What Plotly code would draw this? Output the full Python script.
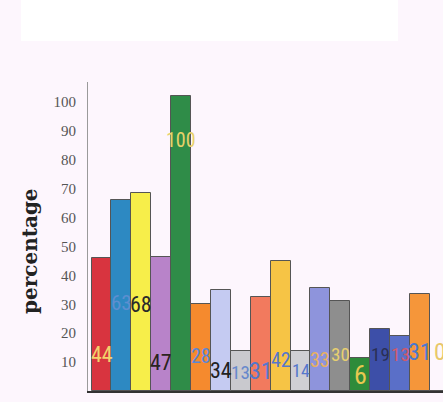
import plotly.graph_objects as go

# ---- data ----
categories = [f"c{i}" for i in range(1, 19)]
values = [46, 66, 68.5, 46.5, 102, 30, 35, 14, 32.5, 45, 14, 35.5, 31, 11.5, 21.5, 19, 33.5, 0]
labels = ["44", "63", "68", "47", "100", "28", "34", "13", "31", "42", "14", "33", "30", "6", "19", "13", "31", "0"]
y_ticks = [10, 20, 30, 40, 50, 60, 70, 80, 90, 100]

# ---- styles ----
bar_colors = ["#D8343F", "#2D89C2", "#F7EE4A", "#B883C9", "#2F8C48", "#F58A2E",
              "#C5CBF2", "#C9C9CE", "#F27A5E", "#F6C445", "#CFCFD4", "#8E94DC",
              "#8E8E8E", "#2E8B3A", "#3D4FA8", "#5A6FC8", "#F5963A", "#F5963A"]
label_colors = ["#F2D36B", "#5D8FD0", "#2A2A2A", "#2B2320", "#E8D26A", "#5A86D8",
                "#222222", "#6688CC", "#5577CC", "#5577CC", "#5577CC", "#E8B060",
                "#E8D070", "#E8C850", "#2A2F55", "#D25A6A", "#4B78D0", "#E8C86A"]
label_y = [12.5, 30.5, 30, 10, 87, 12, 7, 6.5, 7, 10.7, 7, 10.7, 12.5, 5.5, 12.5, 12.5, 13.5, 13.5]
label_size = [22, 21, 22, 22, 20, 20, 22, 19, 24, 20, 18, 20, 19, 26, 19, 19, 24, 24]

W, H = 443, 402
L, T, B = 88, 82, 11
PW = W - L
PH = H - T - B

fig = go.Figure()
fig.add_trace(go.Bar(
    x=list(range(len(categories))), y=values,
    marker=dict(color=bar_colors, line=dict(color="#555555", width=1)),
    width=1.0, showlegend=False, hoverinfo="skip",
))

annotations = []
for i, (lab, ly) in enumerate(zip(labels, label_y)):
    annotations.append(dict(
        x=i, y=ly, xref="x", yref="y", text=lab, showarrow=False,
        font=dict(family="Liberation Sans Narrow, Roboto Condensed, Liberation Sans, sans-serif",
                  size=label_size[i], color=label_colors[i]),
    ))
annotations.append(dict(
    x=(30 - 88) / PW, y=(391 - 251) / PH, xref="paper", yref="paper",
    text="percentage", textangle=-90, showarrow=False,
    font=dict(family="DejaVu Serif", size=20, color="#222222", weight="bold"),
    xanchor="center", yanchor="middle",
))

fig.update_layout(
    width=W, height=H,
    margin=dict(l=L, r=0, t=T, b=B),
    paper_bgcolor="#FDF6FD", plot_bgcolor="#FDF6FD",
    bargap=0,
    annotations=annotations,
    shapes=[dict(type="rect", xref="paper", yref="paper",
                 x0=(21 - 88) / PW, x1=(398 - 88) / PW,
                 y0=(391 - 41) / PH, y1=(391 + 10) / PH,
                 fillcolor="#FFFFFF", line=dict(width=0), layer="below")],
    xaxis=dict(range=[-0.68, 17.16], showticklabels=False, showgrid=False, zeroline=False,
               showline=True, linecolor="#333333", linewidth=1.5, ticks=""),
    yaxis=dict(range=[0, 107], tickvals=y_ticks, showgrid=False, zeroline=False,
               showline=True, linecolor="#9A9A9A", linewidth=1, ticks="",
               ticklabelstandoff=8,
               tickfont=dict(family="Liberation Serif, Times New Roman, serif", size=15, color="#555555")),
)

fig.write_html(
    "out.html",
    config={"displayModeBar": False},
    post_script="document.body.style.margin='0';document.body.style.overflow='hidden';"
                "document.body.style.background='#FDF6FD';",
)
